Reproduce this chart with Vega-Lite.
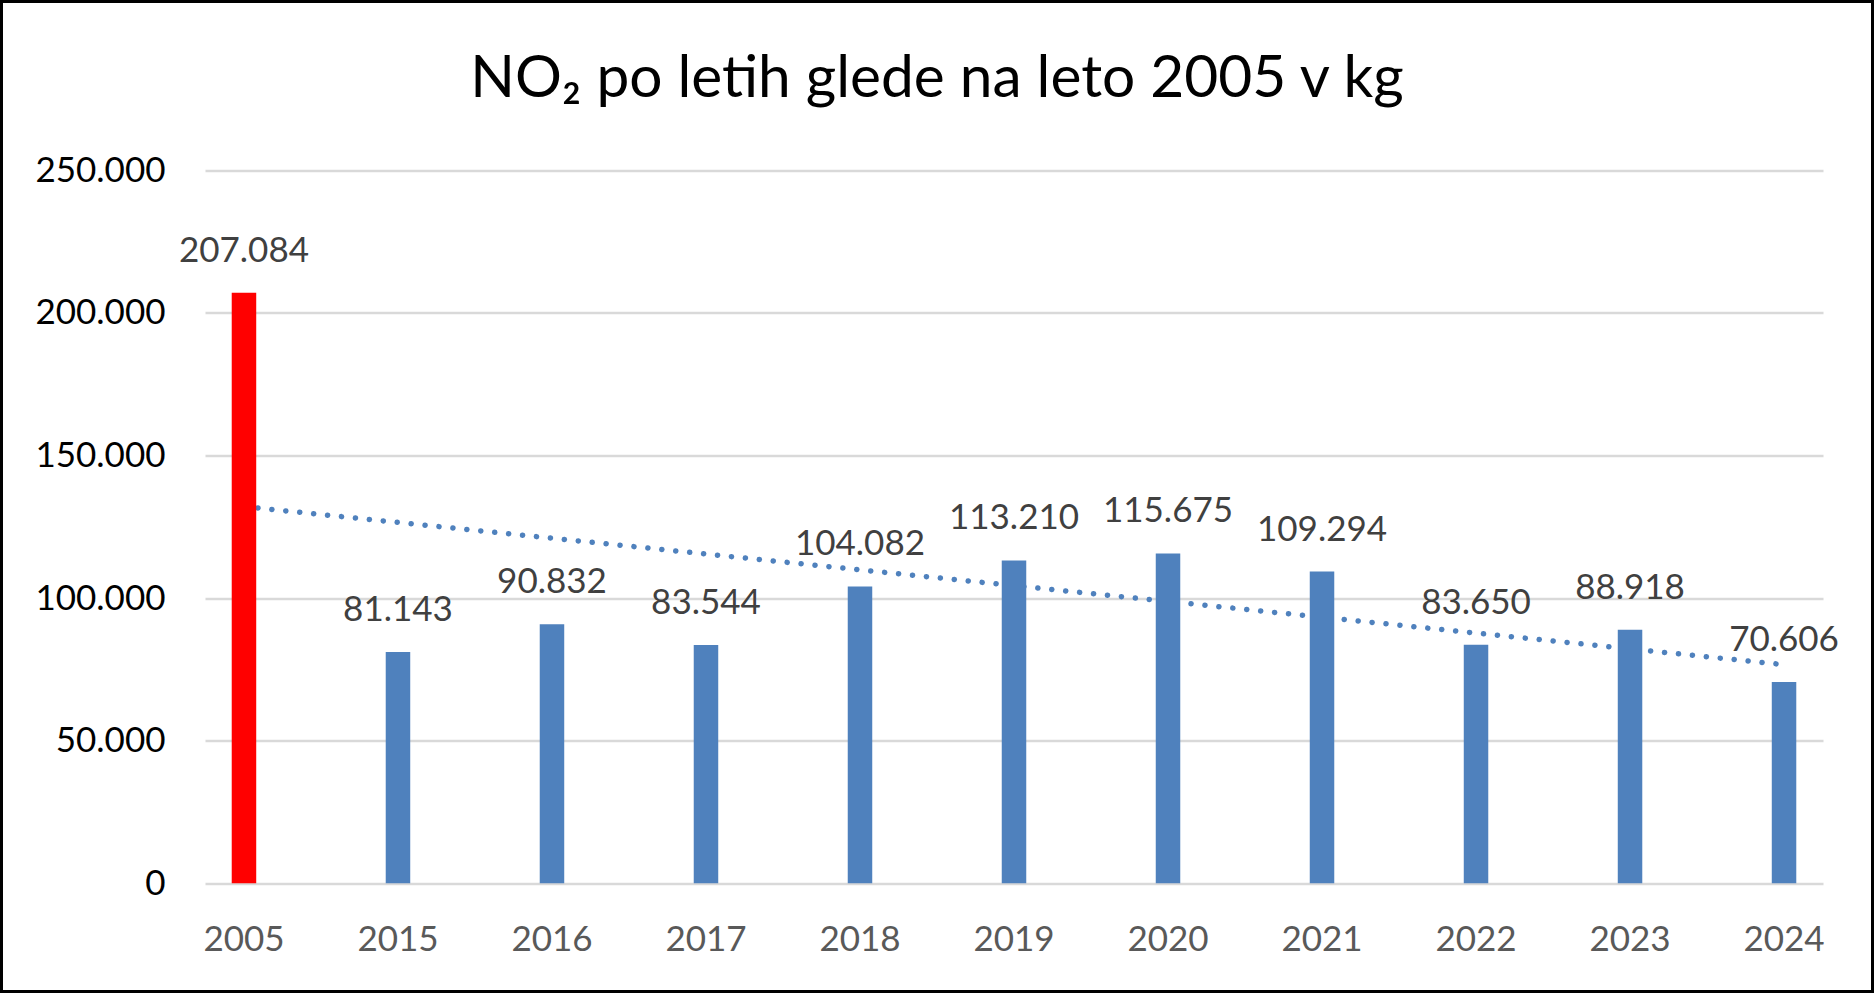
{
  "$schema": "https://vega.github.io/schema/vega-lite/v6.json",
  "width": 1871,
  "height": 990,
  "autosize": {"type": "none"},
  "padding": {"left": 1.5, "top": 1.5, "right": 1.5, "bottom": 1.5},
  "background": "white",
  "title": {
    "text": "NO₂ po letih glede na leto 2005 v kg",
    "font": "Lato",
    "fontSize": 58.6,
    "fontWeight": "normal",
    "color": "#000000",
    "anchor": "middle",
    "frame": "group",
    "baseline": "alphabetic",
    "offset": -96.7,
    "dy": 57
  },
  "datasets": {
    "emissions": [
      {"year": "2005", "value": 207084},
      {"year": "2015", "value": 81143},
      {"year": "2016", "value": 90832},
      {"year": "2017", "value": 83544},
      {"year": "2018", "value": 104082},
      {"year": "2019", "value": 113210},
      {"year": "2020", "value": 115675},
      {"year": "2021", "value": 109294},
      {"year": "2022", "value": 83650},
      {"year": "2023", "value": 88918},
      {"year": "2024", "value": 70606}
    ],
    "trend": [
      {"year": "2005", "value": 132082},
      {"year": "2024", "value": 76652}
    ]
  },
  "encoding": {
    "x": {
      "field": "year",
      "type": "nominal",
      "sort": null,
      "scale": {
        "type": "band",
        "domain": ["2005", "2015", "2016", "2017", "2018", "2019", "2020", "2021", "2022", "2023", "2024"],
        "range": [203.5, 1821.5],
        "paddingInner": 0.8409,
        "paddingOuter": 0.1735
      },
      "axis": {
        "orient": "bottom",
        "offset": -108.2,
        "title": null,
        "domain": false,
        "ticks": false,
        "tickSize": 0,
        "grid": false,
        "labelAngle": 0,
        "labelPadding": 66.7,
        "labelBaseline": "alphabetic",
        "labelFont": "Lato",
        "labelFontSize": 35,
        "labelColor": "#595959"
      }
    },
    "y": {
      "field": "value",
      "type": "quantitative",
      "scale": {"domain": [0, 250000], "nice": false, "zero": true, "range": [881.8, 168.8]},
      "axis": {
        "orient": "left",
        "offset": -203.5,
        "title": null,
        "values": [0, 50000, 100000, 150000, 200000, 250000],
        "labelExpr": "replace(format(datum.value, ','), ',', '.')",
        "domain": false,
        "ticks": false,
        "tickSize": 0,
        "labelPadding": 40,
        "labelFont": "Lato",
        "labelFontSize": 35,
        "labelColor": "#000000",
        "labelBaseline": "middle",
        "grid": true,
        "gridColor": "#D9D9D9",
        "gridWidth": 2.5
      }
    }
  },
  "layer": [
    {
      "data": {"name": "trend"},
      "mark": {
        "type": "line",
        "color": "#4F81BD",
        "strokeWidth": 5.5,
        "strokeDash": [0.1, 13.9],
        "strokeCap": "round"
      },
      "encoding": {}
    },
    {
      "data": {"name": "emissions"},
      "mark": {"type": "bar"},
      "encoding": {
        "color": {
          "condition": {"test": "datum.year === '2005'", "value": "#FF0000"},
          "value": "#4F81BD"
        }
      }
    },
    {
      "data": {"name": "emissions"},
      "mark": {
        "type": "text",
        "font": "Lato",
        "fontSize": 35,
        "color": "#404040",
        "baseline": "alphabetic",
        "align": "center",
        "dy": -31
      },
      "encoding": {
        "text": {"field": "value", "type": "quantitative", "format": ","}
      }
    }
  ],
  "config": {
    "locale": {
      "number": {"decimal": ",", "thousands": ".", "grouping": [3], "currency": ["", " €"]}
    },
    "view": {"stroke": "#000000", "strokeWidth": 3}
  }
}
